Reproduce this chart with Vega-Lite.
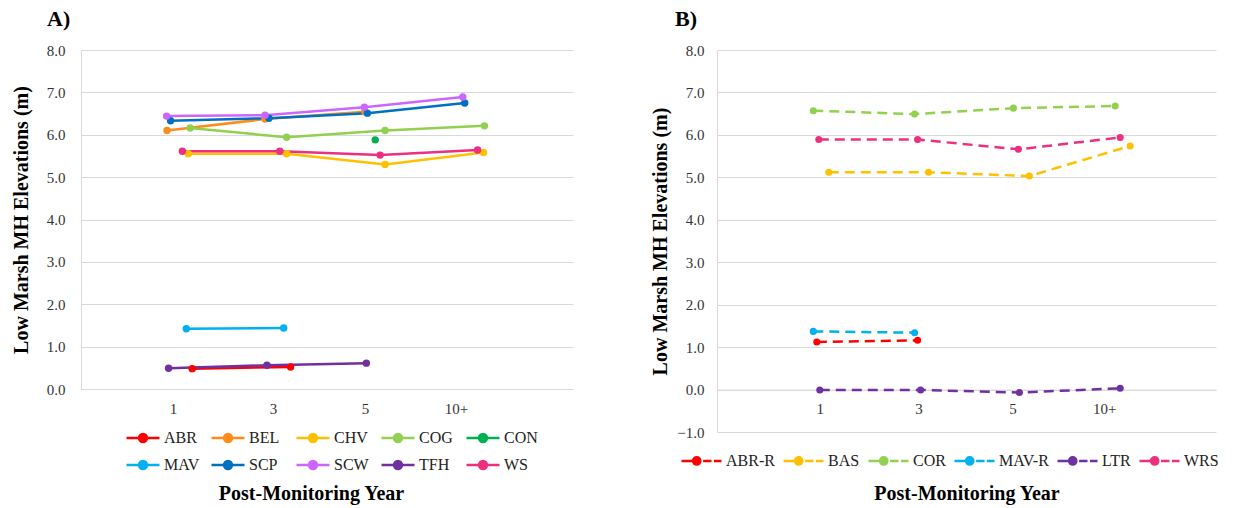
{
  "$schema": "https://vega.github.io/schema/vega-lite/v6.json",
  "background": "white",
  "padding": {"left": 11, "top": 8, "right": 6, "bottom": 2},
  "spacing": 77,
  "config": {
    "font": "Liberation Serif",
    "view": {"stroke": null},
    "axis": {"labelFont": "Liberation Serif", "labelFontSize": 15, "labelColor": "#333333", "titleFont": "Liberation Serif", "titleFontSize": 20, "titleFontWeight": "bold", "titleColor": "#000000", "gridColor": "#d9d9d9", "domainColor": "#d9d9d9", "tickColor": "#d9d9d9"},
    "legend": {"labelFont": "Liberation Serif", "labelFontSize": 16, "labelColor": "#222222"}
  },
  "datasets": {
    "A": [
      {"site": "ABR", "year": "1", "x": 1.13, "elev": 0.48},
      {"site": "ABR", "year": "3", "x": 2.13, "elev": 0.52},
      {"site": "BEL", "year": "1", "x": 0.874, "elev": 6.10},
      {"site": "BEL", "year": "3", "x": 1.87, "elev": 6.37},
      {"site": "BEL", "year": "5", "x": 2.886, "elev": 6.54},
      {"site": "CHV", "year": "1", "x": 1.09, "elev": 5.55},
      {"site": "CHV", "year": "3", "x": 2.09, "elev": 5.55},
      {"site": "CHV", "year": "5", "x": 3.09, "elev": 5.30},
      {"site": "CHV", "year": "10+", "x": 4.09, "elev": 5.58},
      {"site": "COG", "year": "1", "x": 1.11, "elev": 6.16},
      {"site": "COG", "year": "3", "x": 2.09, "elev": 5.94},
      {"site": "COG", "year": "5", "x": 3.09, "elev": 6.10},
      {"site": "COG", "year": "10+", "x": 4.10, "elev": 6.21},
      {"site": "CON", "year": "5", "x": 2.99, "elev": 5.88},
      {"site": "MAV", "year": "1", "x": 1.07, "elev": 1.42},
      {"site": "MAV", "year": "3", "x": 2.06, "elev": 1.44},
      {"site": "SCP", "year": "1", "x": 0.91, "elev": 6.33},
      {"site": "SCP", "year": "3", "x": 1.91, "elev": 6.39},
      {"site": "SCP", "year": "5", "x": 2.91, "elev": 6.51},
      {"site": "SCP", "year": "10+", "x": 3.90, "elev": 6.75},
      {"site": "SCW", "year": "1", "x": 0.87, "elev": 6.44},
      {"site": "SCW", "year": "3", "x": 1.87, "elev": 6.46},
      {"site": "SCW", "year": "5", "x": 2.88, "elev": 6.65},
      {"site": "SCW", "year": "10+", "x": 3.88, "elev": 6.89},
      {"site": "TFH", "year": "1", "x": 0.89, "elev": 0.49},
      {"site": "TFH", "year": "3", "x": 1.89, "elev": 0.56},
      {"site": "TFH", "year": "5", "x": 2.90, "elev": 0.61},
      {"site": "WS", "year": "1", "x": 1.03, "elev": 5.61},
      {"site": "WS", "year": "3", "x": 2.02, "elev": 5.61},
      {"site": "WS", "year": "5", "x": 3.04, "elev": 5.52},
      {"site": "WS", "year": "10+", "x": 4.03, "elev": 5.64}
    ],
    "B": [
      {"site": "ABR-R", "year": "1", "x": 1.0, "elev": 1.12},
      {"site": "ABR-R", "year": "3", "x": 2.01, "elev": 1.16},
      {"site": "BAS", "year": "1", "x": 1.12, "elev": 5.12},
      {"site": "BAS", "year": "3", "x": 2.12, "elev": 5.12},
      {"site": "BAS", "year": "5", "x": 3.13, "elev": 5.03},
      {"site": "BAS", "year": "10+", "x": 4.14, "elev": 5.74},
      {"site": "COR", "year": "1", "x": 0.965, "elev": 6.57},
      {"site": "COR", "year": "3", "x": 1.98, "elev": 6.49},
      {"site": "COR", "year": "5", "x": 2.97, "elev": 6.63},
      {"site": "COR", "year": "10+", "x": 3.99, "elev": 6.68},
      {"site": "MAV-R", "year": "1", "x": 0.965, "elev": 1.37},
      {"site": "MAV-R", "year": "3", "x": 1.98, "elev": 1.34},
      {"site": "LTR", "year": "1", "x": 1.03, "elev": -0.01},
      {"site": "LTR", "year": "3", "x": 2.04, "elev": -0.01},
      {"site": "LTR", "year": "5", "x": 3.03, "elev": -0.07},
      {"site": "LTR", "year": "10+", "x": 4.04, "elev": 0.03},
      {"site": "WRS", "year": "1", "x": 1.02, "elev": 5.89},
      {"site": "WRS", "year": "3", "x": 2.01, "elev": 5.89},
      {"site": "WRS", "year": "5", "x": 3.02, "elev": 5.66},
      {"site": "WRS", "year": "10+", "x": 4.04, "elev": 5.94}
    ]
  },
  "resolve": {"scale": {"color": "independent", "x": "independent", "y": "independent"}, "legend": {"color": "independent"}},
  "hconcat": [
    {
      "width": 492,
      "height": 339,
      "title": {"text": "A)", "anchor": "start", "frame": "group", "dx": -34, "fontSize": 22, "fontWeight": "bold", "font": "Liberation Serif", "offset": 12},
      "data": {"name": "A"},
      "encoding": {
        "x": {"field": "x", "type": "quantitative", "scale": {"domain": [0, 5], "nice": false},
          "axis": {"values": [0.935, 1.95, 2.886, 3.81], "labelExpr": "datum.value < 1.5 ? '1' : datum.value < 2.5 ? '3' : datum.value < 3.5 ? '5' : '10+'", "grid": false, "ticks": false, "labelPadding": 12, "title": "Post-Monitoring Year", "titleX": 230, "titlePadding": 67}},
        "y": {"field": "elev", "type": "quantitative", "scale": {"domain": [0, 8], "nice": false},
          "axis": {"values": [0, 1, 2, 3, 4, 5, 6, 7, 8], "format": ".1f", "ticks": false, "labelPadding": 16, "title": "Low Marsh MH Elevations (m)", "titlePadding": 15}},
        "color": {"field": "site", "type": "nominal",
          "scale": {"domain": ["ABR", "BEL", "CHV", "COG", "CON", "MAV", "SCP", "SCW", "TFH", "WS"],
                    "range": ["#FF0000", "#FF8C1A", "#FFC000", "#92D050", "#00B050", "#00B0F0", "#0070C0", "#CC66FF", "#7030A0", "#EE2F7F"]},
          "legend": {"title": null, "orient": "none", "legendX": 44, "legendY": 370, "direction": "horizontal", "columns": 5, "gridAlign": "all", "columnPadding": 6, "rowPadding": -7,
            "symbolType": "M-1,0L1,0M-0.24,0A0.24,0.24,0,1,1,0.24,0A0.24,0.24,0,1,1,-0.24,0Z", "symbolSize": 1089, "symbolStrokeWidth": 2.5, "labelOffset": 3,
            "encode": {"symbols": {"update": {"fill": {"scale": "concat_0_color", "field": "value"}, "stroke": {"scale": "concat_0_color", "field": "value"}, "opacity": {"value": 1}}}}}}
      },
      "layer": [
        {"mark": {"type": "line", "strokeWidth": 2.5}},
        {"mark": {"type": "point", "filled": true, "size": 55, "opacity": 1}}
      ]
    },
    {
      "width": 499,
      "height": 382,
      "title": {"text": "B)", "anchor": "start", "frame": "group", "dx": -42, "fontSize": 22, "fontWeight": "bold", "font": "Liberation Serif", "offset": 12},
      "data": {"name": "B"},
      "encoding": {
        "x": {"field": "x", "type": "quantitative", "scale": {"domain": [0, 5], "nice": false},
          "axis": {"values": [1.03, 2.02, 2.96, 3.88], "labelExpr": "datum.value < 1.5 ? '1' : datum.value < 2.5 ? '3' : datum.value < 3.5 ? '5' : '10+'", "grid": false, "ticks": false, "offset": -42.4, "labelPadding": 12, "title": "Post-Monitoring Year", "titlePadding": 67}},
        "y": {"field": "elev", "type": "quantitative", "scale": {"domain": [-1, 8], "nice": false},
          "axis": {"values": [-1, 0, 1, 2, 3, 4, 5, 6, 7, 8], "format": ".1f", "ticks": false, "labelPadding": 13, "title": "Low Marsh MH Elevations (m)", "titlePadding": 6}},
        "color": {"field": "site", "type": "nominal",
          "scale": {"domain": ["ABR-R", "BAS", "COR", "MAV-R", "LTR", "WRS"],
                    "range": ["#FF0000", "#FFC000", "#92D050", "#00B0F0", "#7030A0", "#EE2F7F"]},
          "legend": {"title": null, "orient": "none", "legendX": -37, "legendY": 389, "direction": "horizontal", "columns": 6, "gridAlign": "each", "columnPadding": 3,
            "symbolType": "M-1,0L-0.05,0M0.08,0L0.5,0M0.62,0L1,0M-0.42,0A0.18,0.18,0,1,1,-0.06,0A0.18,0.18,0,1,1,-0.42,0Z", "symbolSize": 1600, "symbolStrokeWidth": 2.5, "labelOffset": 3,
            "encode": {"symbols": {"update": {"fill": {"scale": "concat_1_color", "field": "value"}, "stroke": {"scale": "concat_1_color", "field": "value"}, "opacity": {"value": 1}}}}}}
      },
      "layer": [
        {"mark": {"type": "line", "strokeWidth": 2.5, "strokeDash": [10, 6]}},
        {"mark": {"type": "point", "filled": true, "size": 50, "opacity": 1}}
      ]
    }
  ]
}
